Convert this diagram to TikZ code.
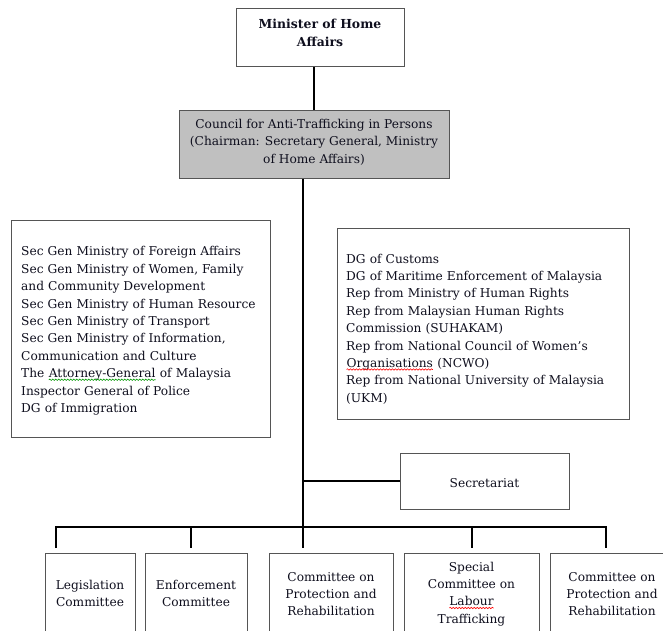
\documentclass[tikz,border=0pt]{standalone}
\usepackage{fontspec}
\setmainfont{DejaVu Serif}
\usetikzlibrary{decorations.pathmorphing}
\definecolor{txt}{RGB}{15,15,30}
\definecolor{boxline}{RGB}{85,85,85}
\definecolor{councilfill}{RGB}{192,192,192}
\newcommand\squig[2]{\tikz[baseline=(sq.base)]{\node[inner sep=0pt,outer sep=0pt] (sq) {#2};\draw[#1,line width=0.6pt,decorate,decoration={snake,amplitude=0.7pt,segment length=3pt}] ([yshift=-2pt]sq.base west) -- ([yshift=-2pt]sq.base east);}}
\begin{document}
\begin{tikzpicture}[x=1pt,y=-1pt,
  box/.style={draw=boxline,line width=1pt,inner sep=0pt},
  lbl/.style={text=txt,align=center,inner sep=0pt,font=\fontsize{12.2}{17.4}\selectfont},
  lst/.style={text=txt,align=left,inner sep=0pt,font=\fontsize{12.2}{17.4}\selectfont},
  conn/.style={line width=2.2pt,black}]
\useasboundingbox (0,0) rectangle (663,630);
\clip (0,0) rectangle (663,630);
\fill[white] (0,0) rectangle (663,630);
% boxes
\node[box,minimum width=168,minimum height=58] (minbox) at (320,37) {};
\node[lbl,font=\fontsize{12.4}{17.8}\selectfont\bfseries] (mintxt) at (320,33) {Minister of Home\\Affairs};
\node[box,fill=councilfill,minimum width=270,minimum height=68] (council) at (314,144) {};
\node[lbl] (counciltxt) at (314,142) {Council for Anti-Trafficking in Persons\\(Chairman: Secretary General, Ministry\\of Home Affairs)};
\node[box,minimum width=259,minimum height=217] (leftbox) at (140.5,328.5) {};
\node[lst,anchor=west,text width=250] (lefttxt) at (21,331) {Sec Gen Ministry of Foreign Affairs\\Sec Gen Ministry of Women, Family\\and Community Development\\Sec Gen Ministry of Human Resource\\Sec Gen Ministry of Transport\\Sec Gen Ministry of Information,\\Communication and Culture\\The \squig{green!60!black}{Attorney-General} of Malaysia\\Inspector General of Police\\DG of Immigration};
\node[box,minimum width=292,minimum height=191] (rightbox) at (483,323.5) {};
\node[lst,anchor=west,text width=280] (righttxt) at (346,329) {DG of Customs\\DG of Maritime Enforcement of Malaysia\\Rep from Ministry of Human Rights\\Rep from Malaysian Human Rights\\Commission (SUHAKAM)\\Rep from National Council of Women's\\\squig{red}{Organisations} (NCWO)\\Rep from National University of Malaysia\\(UKM)};
\node[box,minimum width=169,minimum height=56] (sec) at (484.5,481) {};
\node[lbl] (sectxt) at (484.5,483) {Secretariat};
\node[box,minimum width=90,minimum height=80] (leg) at (90,593) {};
\node[lbl] (legtxt) at (90,593.5) {Legislation\\Committee};
\node[box,minimum width=102,minimum height=80] (enf) at (196,593) {};
\node[lbl] (enftxt) at (196,593.5) {Enforcement\\Committee};
\node[box,minimum width=124,minimum height=80] (prot) at (331,593) {};
\node[lbl] (prottxt) at (331,594) {Committee on\\Protection and\\Rehabilitation};
\node[box,minimum width=135,minimum height=80] (spec) at (471.5,593) {};
\node[lbl] (spectxt) at (471.5,594) {Special\\Committee on\\\squig{red}{Labour}\\Trafficking};
\node[box,minimum width=124,minimum height=80] (prot2) at (612,593) {};
\node[lbl] (prot2txt) at (612,594) {Committee on\\Protection and\\Rehabilitation};
% connectors
\coordinate (bar) at (303,527);
\coordinate (d1) at (56,548);
\coordinate (d2) at (191,548);
\coordinate (d3) at (303,548);
\coordinate (d4) at (472,548);
\coordinate (d5) at (606,548);
\draw[conn] (council.north) -- (council.north |- minbox.south);
\draw[conn] (bar |- council.south) -- (d3);
\draw[conn] (sec.west) -- (sec.west -| bar);
\draw[conn] (d1) -- (d1 |- bar) -- (d5 |- bar) -- (d5);
\draw[conn] (d2 |- bar) -- (d2);
\draw[conn] (d4 |- bar) -- (d4);
\end{tikzpicture}
\end{document}
